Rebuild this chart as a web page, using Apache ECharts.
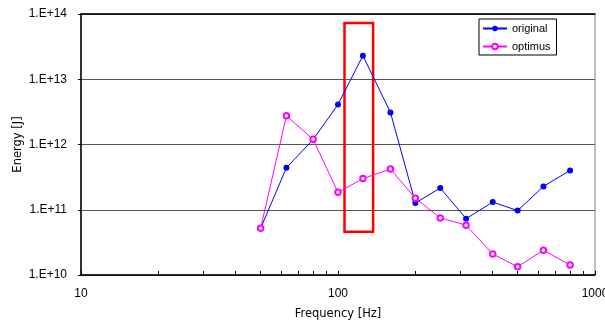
<!DOCTYPE html>
<html>
<head>
<meta charset="utf-8">
<script src="https://cdn.jsdelivr.net/npm/echarts@6/dist/echarts.min.js"></script>
<style>
  html, body { margin: 0; padding: 0; background: #fff; }
  #chart { width: 605px; height: 320px; }
</style>
</head>
<body>
<div id="chart"></div>
<script>
// 1/3 octave band centre frequencies [Hz]
const frequencies = [50, 63, 80, 100, 125, 160, 200, 250, 315, 400, 500, 630, 800];
// energy [J]
const original = [5.2e10, 4.4e11, 1.19e12, 4.1e12, 2.3e13, 3.1e12, 1.27e11, 2.15e11, 7.3e10, 1.31e11, 9.7e10, 2.28e11, 4.0e11];
const optimus = [5.2e10, 2.75e12, 1.2e12, 1.85e11, 3.0e11, 4.2e11, 1.5e11, 7.5e10, 5.8e10, 2.1e10, 1.34e10, 2.4e10, 1.42e10];
// highlighted band (red box): [freq, energy] corners
const boxFrom = [106, 7.3e13];
const boxTo = [137, 4.6e10];
// minor ticks on the frequency axis
const freqTicks = [10, 20, 30, 40, 50, 60, 70, 80, 90, 100, 200, 300, 400, 500, 600, 700, 800, 900, 1000];

const font = '"Liberation Sans", "DejaVu Sans", sans-serif';
const chart = echarts.init(document.getElementById('chart'));

const toPairs = ys => frequencies.map((f, i) => [f, ys[i]]);

chart.setOption({
  animation: false,
  textStyle: { fontFamily: font },
  grid: {
    left: 81,
    right: 10,
    top: 14,
    bottom: 45,
    outerBoundsMode: 'none',
    containLabel: false,
    show: true,
    borderColor: '#808080',
    borderWidth: 1
  },
  legend: {
    left: 479,
    top: 19,
    orient: 'vertical',
    itemGap: 7,
    itemWidth: 24,
    itemHeight: 7,
    padding: [4, 6, 3, 3],
    borderColor: '#000',
    borderWidth: 1,
    backgroundColor: '#fff',
    textStyle: {
      fontFamily: font,
      fontSize: 11,
      color: '#000'
    },
    data: ['original', 'optimus']
  },
  xAxis: [
    {
      type: 'log',
      logBase: 10,
      min: 10,
      max: 1000,
      name: 'Frequency [Hz]',
      nameLocation: 'middle',
      nameGap: 33,
      nameMoveOverlap: false,
      nameTextStyle: { fontFamily: '"DejaVu Sans", sans-serif', fontSize: 11.5, color: '#000' },
      axisLine: { lineStyle: { color: '#000', width: 1.5 } },
      axisTick: {
        inside: true,
        length: 4,
        customValues: freqTicks,
        lineStyle: { color: '#000' }
      },
      axisLabel: {
        margin: 13,
        fontSize: 12,
        color: '#000',
        showMinLabel: true,
        showMaxLabel: true,
        formatter: v => String(Math.round(v))
      },
      splitLine: { show: false }
    },
    {
      type: 'log',
      position: 'top',
      min: 10,
      max: 1000,
      axisLine: { show: true, lineStyle: { color: '#000', width: 1.5 } },
      axisTick: { show: false },
      axisLabel: { show: false },
      splitLine: { show: false }
    }
  ],
  yAxis: {
    type: 'log',
    logBase: 10,
    min: 1e10,
    max: 1e14,
    name: 'Energy [J]',
    nameLocation: 'middle',
    nameGap: 57,
    nameRotate: 90,
    nameMoveOverlap: false,
    nameTextStyle: { fontFamily: '"DejaVu Sans", sans-serif', fontSize: 11.5, color: '#000' },
    axisLine: { show: true, lineStyle: { color: '#000', width: 1.5 } },
    axisTick: { show: true, length: 3, lineStyle: { color: '#000' } },
    axisLabel: {
      margin: 14,
      fontSize: 12,
      color: '#000',
      formatter: v => '1.E+' + Math.round(Math.log10(v))
    },
    splitLine: { lineStyle: { color: '#555', width: 1 } }
  },
  series: [
    {
      name: 'original',
      type: 'line',
      data: toPairs(original),
      symbol: 'circle',
      symbolSize: 6,
      lineStyle: { color: '#0000ff', width: 1 },
      itemStyle: { color: '#0000ff' },
      markArea: {
        silent: true,
        itemStyle: {
          color: 'rgba(0,0,0,0)',
          borderColor: '#ff0000',
          borderWidth: 2.5
        },
        data: [[{ coord: boxFrom }, { coord: boxTo }]]
      },
      z: 2
    },
    {
      name: 'optimus',
      type: 'line',
      data: toPairs(optimus),
      symbol: 'emptyCircle',
      symbolSize: 5.5,
      lineStyle: { color: '#ff00ff', width: 1 },
      itemStyle: { color: '#ff00ff', borderWidth: 1 },
      z: 3
    }
  ]
});
</script>
</body>
</html>
